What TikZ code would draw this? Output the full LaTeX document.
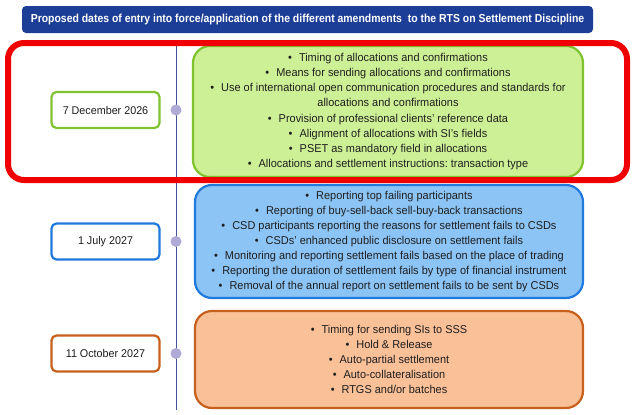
\documentclass[tikz,border=0pt]{standalone}
\usepackage{fontspec}
\setmainfont{Liberation Sans}[FakeStretch=0.96]
\newfontfamily\titlefont{Liberation Sans}[FakeStretch=0.9]
\definecolor{titleblue}{RGB}{28,62,150}
\definecolor{frame}{RGB}{240,0,0}
\definecolor{gfill}{RGB}{205,240,150}
\definecolor{gline}{RGB}{128,194,48}
\definecolor{bfill}{RGB}{140,196,246}
\definecolor{bline}{RGB}{32,122,222}
\definecolor{ofill}{RGB}{250,192,152}
\definecolor{oline}{RGB}{198,96,28}
\definecolor{dot}{RGB}{176,170,214}
\definecolor{axis}{RGB}{72,82,150}
\definecolor{txt}{RGB}{30,30,30}
\newcommand{\bl}{\textbullet\hspace{7pt}}
\tikzset{
  content/.style={draw, line width=2.2pt, rounded corners=17pt, align=center,
    text=txt, font=\fontsize{11.4}{15.2}\selectfont, inner sep=0pt},
  datebox/.style={draw, line width=2.2pt, rounded corners=5pt, fill=white,
    minimum width=108pt, minimum height=36pt, text=txt, font=\fontsize{11.2}{12}\selectfont, inner sep=0pt},
  tdot/.style={circle, fill=dot, minimum size=11pt, inner sep=0pt},
}
\begin{document}
\begin{tikzpicture}[x=1pt,y=-1pt]
\useasboundingbox (0,0) rectangle (641,415);
% title
\node[fill=titleblue, rounded corners=4pt, minimum width=571pt, minimum height=27pt,
  text=white, font=\titlefont\bfseries\fontsize{11.6}{13}\selectfont, inner sep=0pt]
  (title) at (307.5,19.5) {Proposed dates of entry into force/application of the different amendments\ \ to the RTS on Settlement Discipline};
% timeline axis
\coordinate (axtop) at (176,40);
\coordinate (axbot) at (176,410);
\draw[axis, line width=0.8pt] (axtop) -- (axbot);
% content boxes
\node[content, fill=gfill, draw=gline, minimum width=390pt, minimum height=131pt] (g) at (388,111.5)
 {\bl Timing of allocations and confirmations\\
  \bl Means for sending allocations and confirmations\\
  \bl Use of international open communication procedures and standards for\\
  allocations and confirmations\\
  \bl Provision of professional clients' reference data\\
  \bl Alignment of allocations with SI's fields\\
  \bl PSET as mandatory field in allocations\\
  \bl Allocations and settlement instructions:\ transaction type};
\node[content, fill=bfill, draw=bline, minimum width=388pt, minimum height=113pt, font=\fontsize{11.4}{15}\selectfont] (b) at (389,241.5)
 {\bl Reporting top failing participants\\
  \bl Reporting of buy-sell-back sell-buy-back transactions\\
  \bl CSD participants reporting the reasons for settlement fails to CSDs\\
  \bl CSDs' enhanced public disclosure on settlement fails\\
  \bl Monitoring and reporting settlement fails based on the place of trading\\
  \bl Reporting the duration of settlement fails by type of financial instrument\\
  \bl Removal of the annual report on settlement fails to be sent by CSDs};
\node[content, fill=ofill, draw=oline, minimum width=388pt, minimum height=97pt, font=\fontsize{11.4}{15}\selectfont] (o) at (389,359.5)
 {\bl Timing for sending SIs to SSS\\
  \bl Hold \& Release\\
  \bl Auto-partial settlement\\
  \bl Auto-collateralisation\\
  \bl RTGS and/or batches};
% date boxes
\node[datebox, draw=gline] (d1) at (105.5,110) {7 December 2026};
\node[datebox, draw=bline] (d2) at (105.5,241.5) {1 July 2027};
\node[datebox, draw=oline] (d3) at (105.5,353.5) {11 October 2027};
% dots
\node[tdot] (c1) at (176,110) {};
\node[tdot] (c2) at (176,241.5) {};
\node[tdot] (c3) at (176,353.5) {};
% red highlight frame
\node[draw=frame, line width=6pt, rounded corners=16pt, minimum width=619pt, minimum height=137pt, inner sep=0pt] (hl) at (317.5,111.5) {};
\end{tikzpicture}
\end{document}
